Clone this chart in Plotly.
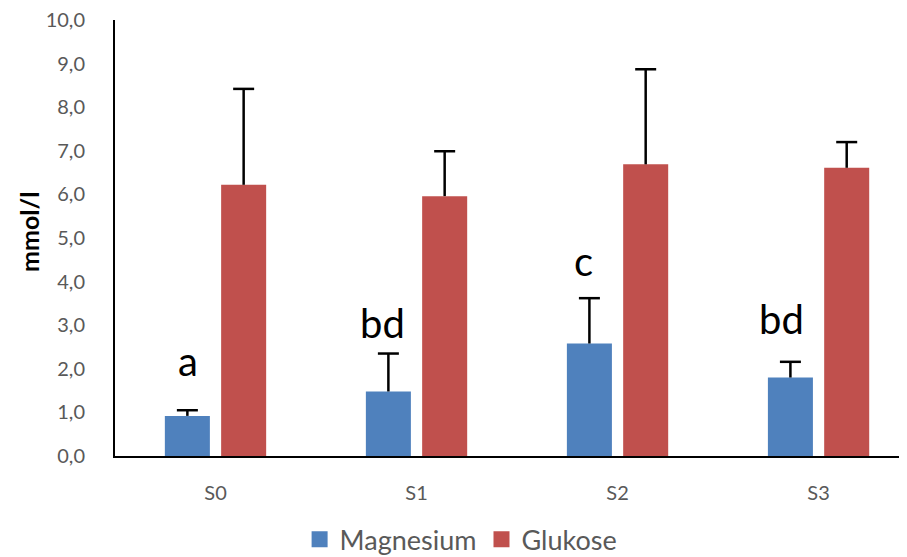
import plotly.graph_objects as go

categories = ["S0", "S1", "S2", "S3"]
magnesium = [0.92, 1.48, 2.58, 1.80]
magnesium_err = [0.13, 0.87, 1.04, 0.36]
glukose = [6.22, 5.96, 6.69, 6.61]
glukose_err = [2.20, 1.03, 2.18, 0.59]
sig_labels = ["a", "bd", "c", "bd"]
sig_label_y = [2.18, 3.05, 4.47, 3.14]
sig_label_xshift = [-28, -34, -34, -37]

BLUE = "#4F81BD"
RED = "#C0504D"
FONT = "Lato, Open Sans, sans-serif"
GRAY = "#595959"

fig = go.Figure()
series = [("Magnesium", magnesium, magnesium_err, BLUE, "mg"),
          ("Glukose", glukose, glukose_err, RED, "gl")]

for nm, vals, errs, col, grp in series:
    # bar with the error stem (no caps)
    fig.add_trace(go.Bar(
        x=categories, y=vals, name=nm, marker_color=col, offsetgroup=grp,
        marker_line_width=0, showlegend=False,
        error_y=dict(type="data", symmetric=False, array=errs,
                     arrayminus=[0] * len(errs), color="black",
                     thickness=2.5, width=0)))

for nm, vals, errs, col, grp in series:
    # upper cap of the error bar
    fig.add_trace(go.Scatter(
        x=categories, y=[v + e for v, e in zip(vals, errs)], mode="markers",
        offsetgroup=grp, showlegend=False, hoverinfo="skip",
        marker=dict(symbol="line-ew", size=15, color="black",
                    line=dict(color="black", width=2.5))))

for nm, vals, errs, col, grp in series:
    # legend entry with larger square
    fig.add_trace(go.Scatter(x=[None], y=[None], mode="markers", name=nm,
                             offsetgroup=grp,
                             marker=dict(symbol="square", size=18, color=col)))

for cat, lbl, ly, xs in zip(categories, sig_labels, sig_label_y, sig_label_xshift):
    fig.add_annotation(x=cat, y=ly, text=lbl, showarrow=False, xshift=xs,
                       yanchor="middle", xanchor="center",
                       font=dict(family=FONT, size=40, color="black"))

# y-axis title
fig.add_annotation(xref="paper", yref="paper", x=-0.1086, y=0.514,
                   text="<b>mmol/l</b>", textangle=-90, showarrow=False,
                   xanchor="center", yanchor="middle",
                   font=dict(family=FONT, size=25, color="black"))

# the page body has an 8px margin; the figure is sized to fill the rest
fig.update_layout(
    width=899, height=549, autosize=False,
    margin=dict(l=107, r=0, t=12, b=101, autoexpand=False),
    plot_bgcolor="white", paper_bgcolor="white",
    barmode="group", bargap=0.44, bargroupgap=0.2,
    scattermode="group", scattergap=0.44,
    separators=",.",
    font=dict(family=FONT, color=GRAY),
    legend=dict(orientation="h", x=0.437, xanchor="center", y=-0.192,
                yanchor="middle", font=dict(family=FONT, size=27, color=GRAY),
                itemwidth=30, bgcolor="rgba(0,0,0,0)"),
    xaxis=dict(type="category", categoryorder="array", categoryarray=categories,
               range=[-0.5, 3.44], showline=True, linecolor="black", linewidth=2,
               showgrid=False, zeroline=False, ticks="", automargin=False,
               tickfont=dict(family=FONT, size=20, color=GRAY),
               ticklabelstandoff=18),
    yaxis=dict(range=[0, 10], dtick=1, tick0=0, tickformat=".1f",
               showline=True, linecolor="black", linewidth=2,
               showgrid=False, zeroline=False, ticks="", automargin=False,
               ticklabeloverflow="allow",
               tickfont=dict(family=FONT, size=20, color=GRAY),
               ticklabelstandoff=24),
)

fig.write_html("out.html")
